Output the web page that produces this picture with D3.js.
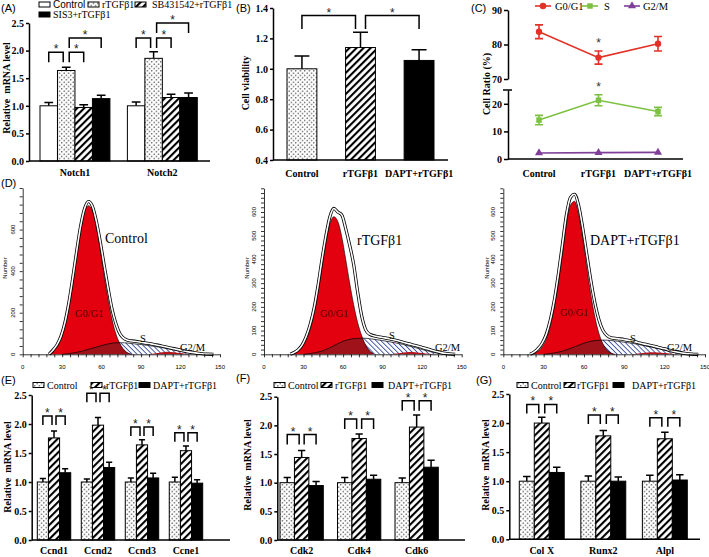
<!DOCTYPE html>
<html><head><meta charset="utf-8">
<script src="https://d3js.org/d3.v7.min.js"></script>
<style>body{margin:0;background:#fff;}svg{display:block;}</style>
</head><body>
<script>
// ===================== DATA =====================
const notchGenes = ["Notch1", "Notch2"];
const notchTreatments = ["Control", "rTGFβ1", "SB431542+rTGFβ1", "SIS3+rTGFβ1"];
const notchMean = [[1.00, 1.64, 0.97, 1.13], [1.00, 1.86, 1.15, 1.15]];
const notchErr = [[0.06, 0.06, 0.05, 0.06], [0.07, 0.12, 0.06, 0.08]];
// [catA, seriesA, catB, seriesB, bracket height]
const notchBrackets = [[0,0,0,1,1.97],[0,1,0,2,1.97],[0,1,0,3,2.23],[1,0,1,1,2.23],[1,1,1,2,2.23],[1,1,1,3,2.50]];
const mrnaTicks = [0, 0.5, 1.0, 1.5, 2.0, 2.5];

const treatments = ["Control", "rTGFβ1", "DAPT+rTGFβ1"];
const viabilityMean = [1.00, 1.14, 1.055];
const viabilityErr = [0.085, 0.10, 0.07];
const viabilityBrackets = [[0,0,1,0,1.35],[1,0,2,0,1.35]];
const viabilityTicks = [0.4, 0.6, 0.8, 1.0, 1.2, 1.4];

const phases = ["G0/G1", "S", "G2/M"];
const g0g1Ratio = [83.7, 76.2, 80.2];
const g0g1Err = [2.0, 1.9, 2.1];
const sRatio = [14.1, 21.3, 17.2];
const sErr = [1.7, 2.0, 1.5];
const g2mRatio = [2.2, 2.3, 2.4];
const g2mErr = [0, 0, 0];
const ratioTicksUpper = [70, 80, 90];
const ratioTicksLower = [0, 10, 20];

// Flow cytometry histograms (channel -> cell number)
const flowTicksX = [0, 30, 60, 90, 120, 150];
const chEnv = [20,23,26,29,32,35,38,41,44,47,50,53,56,59,62,65,68,71,74,77,80,85,90,95,100,105,110,115,120,125,130,135,140,145];
const chG0 = [20,23,26,29,32,35,38,41,44,47,50,53,56,59,62,65,68,71,74,77,80,83];
const chS = [30,35,40,45,50,55,60,65,70,75,80,85,90,95,100,105,110,115,120,125,130,135,140];
const chM = [95,100,105,110,115,120,125,130];

const ctrlEnv = [0,20,45,85,150,245,365,495,615,700,735,712,640,540,425,315,215,145,98,76,68,63,58,53,47,41,34,27,20,13,8,4,1,0];
const ctrlG0 = [0,15,40,79,142,232,348,477,597,684,715,690,610,500,375,260,165,95,50,22,6,0];
const ctrlS = [0,3,8,15,24,33,42,50,55,56,54,50,47,43,38,33,27,20,14,8,4,1,0];
const ctrlM = [0,4,9,12,10,6,2,0];

const tgfEnv = [0,8,20,40,75,125,195,290,400,500,580,615,600,588,530,460,380,265,165,105,85,76,71,66,59,52,44,37,29,21,13,6,2,0];
const tgfG0 = [0,5,15,32,60,105,170,260,365,470,550,580,560,495,400,300,210,135,80,40,15,3];
const tgfS = [0,3,8,16,28,42,55,63,67,68,66,62,58,53,48,42,35,28,20,13,6,2,0];
const tgfM = [0,3,7,10,9,5,2,0];

const daptEnv = [0,10,25,48,85,145,230,340,465,590,662,675,628,535,425,315,220,148,102,80,70,66,62,57,50,43,37,30,23,15,9,4,1,0];
const daptG0 = [0,4,14,32,65,120,200,305,425,550,630,645,590,490,370,255,160,90,45,18,5,0];
const daptS = [0,3,8,15,25,36,47,55,59,60,58,55,51,47,42,36,30,24,17,10,5,1,0];
const daptM = [0,3,7,9,8,5,2,0];

const cyclinGenes = ["Ccnd1", "Ccnd2", "Ccnd3", "Ccne1"];
const cyclinMean = [[1.00,1.76,1.16],[1.00,1.98,1.25],[1.00,1.64,1.07],[1.00,1.54,0.98]];
const cyclinErr = [[0.06,0.12,0.07],[0.05,0.13,0.09],[0.07,0.09,0.08],[0.08,0.08,0.06]];
const cyclinBrackets = [[0,0,0,1,2.14],[0,1,0,2,2.14],[1,0,1,1,2.53],[1,1,1,2,2.53],[2,0,2,1,1.95],[2,1,2,2,1.95],[3,0,3,1,1.85],[3,1,3,2,1.85]];

const cdkGenes = ["Cdk2", "Cdk4", "Cdk6"];
const cdkMean = [[1.00,1.44,0.95],[1.00,1.77,1.06],[1.00,1.97,1.27]];
const cdkErr = [[0.09,0.12,0.07],[0.09,0.08,0.07],[0.08,0.21,0.12]];
const cdkBrackets = [[0,0,0,1,1.84],[0,1,0,2,1.84],[1,0,1,1,2.11],[1,1,1,2,2.11],[2,0,2,1,2.43],[2,1,2,2,2.43]];

const osteoGenes = ["Col X", "Runx2", "Alpl"];
const osteoMean = [[1.00,2.00,1.15],[1.00,1.78,1.00],[1.00,1.73,1.02]];
const osteoErr = [[0.08,0.10,0.09],[0.09,0.09,0.07],[0.10,0.11,0.09]];
const osteoBrackets = [[0,0,0,1,2.32],[0,1,0,2,2.32],[1,0,1,1,2.14],[1,1,1,2,2.14],[2,0,2,1,2.09],[2,1,2,2,2.09]];

// ===================== DRAWING =====================
const SERIF = "Liberation Serif, Times New Roman, serif";
const SANS = "Liberation Sans, Arial, sans-serif";
const NARROW = "Liberation Sans Narrow, Arial Narrow, Liberation Sans, sans-serif";
const RED = "#e3000f", GREEN = "#7dc142", PURPLE = "#7f3f98", CRED = "#e33127";

const svg = d3.select("body").append("svg").attr("width", 709).attr("height", 557);
svg.append("rect").attr("width", 709).attr("height", 557).attr("fill", "#fff");
const defs = svg.append("defs");

const pd = defs.append("pattern").attr("id","dots").attr("patternUnits","userSpaceOnUse").attr("width",4.5).attr("height",4.5);
pd.append("rect").attr("width",4.5).attr("height",4.5).attr("fill","#fff");
pd.append("circle").attr("cx",1.1).attr("cy",1.1).attr("r",0.6).attr("fill","#000");
pd.append("circle").attr("cx",3.35).attr("cy",3.35).attr("r",0.6).attr("fill","#000");

const ph = defs.append("pattern").attr("id","hatch").attr("patternUnits","userSpaceOnUse").attr("width",5).attr("height",5).attr("patternTransform","rotate(45)");
ph.append("rect").attr("width",5).attr("height",5).attr("fill","#fff");
ph.append("rect").attr("width",2.1).attr("height",5).attr("fill","#000");

const fh = defs.append("pattern").attr("id","fhatch").attr("patternUnits","userSpaceOnUse").attr("width",3.5).attr("height",3.5).attr("patternTransform","rotate(-45)");
fh.append("rect").attr("width",3.5).attr("height",3.5).attr("fill","#fff");
fh.append("rect").attr("width",0.9).attr("height",3.5).attr("fill","#3b4fa0");

function panelLabel(t, x, y) {
  svg.append("text").attr("x", x).attr("y", y).attr("font-family", SANS).attr("font-size", 11).text(t);
}
function yLabel(t, x, y) {
  svg.append("text").attr("transform", `translate(${x},${y}) rotate(-90)`).attr("text-anchor","middle")
    .attr("dy","0.35em").attr("font-family", SERIF).attr("font-weight","bold").attr("font-size",10)
    .style("white-space","pre").text(t);
}
function legendItem(bx, y, fill, tx, label, font) {
  svg.append("rect").attr("x", bx).attr("y", y - 2.5).attr("width", 11).attr("height", 5)
    .attr("fill", fill).attr("stroke", "#000").attr("stroke-width", 1);
  svg.append("text").attr("x", tx).attr("y", y).attr("dy", "0.35em").attr("font-family", font)
    .attr("font-size", 10).text(label);
}
function styleAxis(g, sw) {
  g.select(".domain").attr("stroke-width", sw);
  g.selectAll(".tick line").attr("stroke-width", sw);
  g.selectAll(".tick text").attr("font-family", SERIF).attr("font-weight", "bold").attr("font-size", 10).attr("fill","#000");
}

function barPanel(c) {
  const x = d3.scaleBand().domain(c.cats).range(c.band).paddingInner(c.pi).paddingOuter(0);
  const ns = c.means[0].length;
  const xs = d3.scaleBand().domain(d3.range(ns)).range([0, x.bandwidth()]);
  const y = d3.scaleLinear().domain(c.yDom).range(c.yRange);
  const bw = xs.bandwidth();
  const g = svg.append("g");
  const rows = [];
  c.cats.forEach((cat, ci) => c.means[ci].forEach((v, si) => rows.push({cat, ci, si, v, e: c.errs[ci][si]})));
  const ctr = (ci, si) => x(c.cats[ci]) + xs(si) + bw / 2;
  const cw = bw * c.cap;
  g.selectAll(".eb").data(rows).join("path")
    .attr("d", d => `M${ctr(d.ci,d.si)},${y(d.v)}V${y(d.v + d.e)}M${ctr(d.ci,d.si) - cw/2},${y(d.v + d.e)}H${ctr(d.ci,d.si) + cw/2}`)
    .attr("stroke", "#000").attr("stroke-width", 1.5).attr("fill", "none");
  g.selectAll(".bar").data(rows).join("rect")
    .attr("x", d => x(d.cat) + xs(d.si)).attr("y", d => y(d.v))
    .attr("width", bw).attr("height", d => y(c.yDom[0]) - y(d.v))
    .attr("fill", d => c.fill(d)).attr("stroke", "#000").attr("stroke-width", 1);
  // axes
  const ya = g.append("g").attr("transform", `translate(${c.axisX[0]},0)`)
    .call(d3.axisLeft(y).tickValues(c.ticks).tickFormat(d3.format(".1f")).tickSize(3).tickSizeOuter(0).tickPadding(2));
  styleAxis(ya, 1.5);
  g.append("line").attr("x1", c.axisX[0]).attr("x2", c.axisX[1]).attr("y1", y(c.yDom[0])).attr("y2", y(c.yDom[0]))
    .attr("stroke", "#000").attr("stroke-width", 1.5);
  g.selectAll(".xl").data(c.cats).join("text")
    .attr("x", d => x(d) + x.bandwidth() / 2).attr("y", c.xlabY).attr("text-anchor", "middle")
    .attr("font-family", SERIF).attr("font-weight", "bold").attr("font-size", 10).text(d => d);
  // significance brackets
  c.brackets.forEach(b => {
    const [ca, sa, cb, sb, v] = b;
    const x1 = ctr(ca, sa) + (c.isRef(ca, sa) ? c.off : 0);
    const x2 = ctr(cb, sb) - (c.isRef(cb, sb) ? c.off : 0);
    const yt = y(v);
    g.append("path").attr("d", `M${x1},${yt + c.drop}V${yt}H${x2}V${yt + c.drop}`)
      .attr("fill", "none").attr("stroke", "#000").attr("stroke-width", 1.5);
    g.append("text").attr("x", (x1 + x2) / 2).attr("y", yt + 1).attr("text-anchor", "middle")
      .attr("font-family", SANS).attr("font-size", 12).attr("fill", "#222").text("*");
  });
}

// ---------- Panel A ----------
panelLabel("(A)", 1, 12);
const notchFills = ["#fff", "url(#dots)", "url(#hatch)", "#000"];
barPanel({cats: notchGenes, means: notchMean, errs: notchErr, band: [40, 197.3], pi: 0.2,
  yDom: [0, 2.5], yRange: [161, 23], ticks: mrnaTicks, axisX: [29, 210], xlabY: 176,
  fill: d => notchFills[d.si], brackets: notchBrackets, isRef: (ci, si) => si === 1, off: 3, drop: 10, cap: 0.5});
yLabel("Relative  mRNA level", 6, 88);
legendItem(39, 4.5, notchFills[0], 53, notchTreatments[0], NARROW);
legendItem(88, 4.5, notchFills[1], 102, notchTreatments[1], SERIF);
legendItem(135, 4.5, notchFills[2], 152, notchTreatments[2], SERIF);
legendItem(39, 14.5, notchFills[3], 53, notchTreatments[3], SERIF);

// ---------- Panel B ----------
panelLabel("(B)", 236, 12);
const treatFills = ["url(#dots)", "url(#hatch)", "#000"];
barPanel({cats: treatments, means: viabilityMean.map(v => [v]), errs: viabilityErr.map(v => [v]),
  band: [287, 434], pi: 0.49, yDom: [0.4, 1.4], yRange: [160, 8], ticks: viabilityTicks,
  axisX: [273, 448], xlabY: 177, fill: d => treatFills[d.ci], brackets: viabilityBrackets,
  isRef: (ci, si) => ci === 1, off: 5, drop: 13.5, cap: 0.5});
yLabel("Cell viability", 245, 83);

// ---------- Panel C ----------
panelLabel("(C)", 471, 12);
{
  const g = svg.append("g");
  const cx = d3.scalePoint().domain(treatments).range([539, 658]);
  const yU = d3.scaleLinear().domain([70, 90]).range([79, 10]);
  const yL = d3.scaleLinear().domain([0, 25]).range([159, 90]);
  const au = g.append("g").attr("transform", "translate(508,0)")
    .call(d3.axisLeft(yU).tickValues(ratioTicksUpper).tickSize(4).tickSizeOuter(0).tickPadding(2));
  styleAxis(au, 1.5);
  const al = g.append("g").attr("transform", "translate(508,0)")
    .call(d3.axisLeft(yL).tickValues(ratioTicksLower).tickSize(4).tickSizeOuter(0).tickPadding(2));
  styleAxis(al, 1.5);
  g.append("line").attr("x1", 503).attr("x2", 512).attr("y1", yL(25)).attr("y2", yL(25)).attr("stroke", "#000").attr("stroke-width", 1.5);
  g.append("line").attr("x1", 508).attr("x2", 683).attr("y1", yL(0)).attr("y2", yL(0)).attr("stroke", "#000").attr("stroke-width", 1.5);
  g.selectAll(".xl").data(treatments).join("text").attr("x", d => cx(d)).attr("y", 177)
    .attr("text-anchor", "middle").attr("font-family", SERIF).attr("font-weight", "bold").attr("font-size", 10).text(d => d);
  const series = [
    {vals: g0g1Ratio, errs: g0g1Err, color: CRED, y: yU, sym: d3.symbolCircle, size: 32},
    {vals: sRatio, errs: sErr, color: GREEN, y: yL, sym: d3.symbolSquare, size: 30},
    {vals: g2mRatio, errs: g2mErr, color: PURPLE, y: yL, sym: d3.symbolTriangle, size: 28}
  ];
  series.forEach(s => {
    const line = d3.line().x((d, i) => cx(treatments[i])).y(d => s.y(d));
    g.append("path").attr("d", line(s.vals)).attr("fill", "none").attr("stroke", s.color).attr("stroke-width", 1.6);
    s.vals.forEach((v, i) => {
      const e = s.errs[i];
      if (e > 0) {
        const px = cx(treatments[i]);
        g.append("path").attr("d", `M${px},${s.y(v - e)}V${s.y(v + e)}M${px - 4},${s.y(v - e)}H${px + 4}M${px - 4},${s.y(v + e)}H${px + 4}`)
          .attr("stroke", s.color).attr("stroke-width", 1.6).attr("fill", "none");
      }
      g.append("path").attr("d", d3.symbol().type(s.sym).size(s.size)())
        .attr("transform", `translate(${cx(treatments[i])},${s.y(v)})`).attr("fill", s.color);
    });
  });
  // significance marks
  g.append("text").attr("x", cx(treatments[1])).attr("y", yU(g0g1Ratio[1] + g0g1Err[1]) - 4)
    .attr("text-anchor", "middle").attr("font-family", SANS).attr("font-size", 12).attr("fill", "#333").text("*");
  g.append("text").attr("x", cx(treatments[1])).attr("y", yL(sRatio[1] + sErr[1]) - 4)
    .attr("text-anchor", "middle").attr("font-family", SANS).attr("font-size", 12).attr("fill", "#333").text("*");
  // legend
  const leg = [[543, 555], [590, 604], [632, 643]];
  series.forEach((s, i) => {
    const [mx, tx] = leg[i];
    g.append("line").attr("x1", mx - 8).attr("x2", mx + 8).attr("y1", 6).attr("y2", 6).attr("stroke", s.color).attr("stroke-width", 1.6);
    g.append("path").attr("d", d3.symbol().type(s.sym).size(s.size)()).attr("transform", `translate(${mx},6)`).attr("fill", s.color);
    g.append("text").attr("x", tx).attr("y", 6).attr("dy", "0.35em").attr("font-family", SERIF).attr("font-size", 10.5).text(phases[i]);
  });
  yLabel("Cell Ratio (%)", 486, 84);
}

// ---------- Panel D ----------
panelLabel("(D)", 1, 187);
function flowPanel(c) {
  const x = d3.scaleLinear().domain([0, 150]).range([c.x0, c.x1]);
  const y = d3.scaleLinear().domain([0, c.ymax]).range([c.base, c.top]);
  const g = svg.append("g");
  const area = ch => d3.area().x((d, i) => x(ch[i])).y0(y(0)).y1(d => y(d)).curve(d3.curveMonotoneX);
  const line = ch => d3.line().x((d, i) => x(ch[i])).y(d => y(d)).curve(d3.curveMonotoneX);
  g.append("path").attr("d", area(chS)(c.s)).attr("fill", "url(#fhatch)");
  g.append("path").attr("d", area(chG0)(c.g0)).attr("fill", RED);
  g.append("clipPath").attr("id", c.id).append("path").attr("d", area(chG0)(c.g0));
  g.append("path").attr("d", area(chS)(c.s)).attr("fill", "#a0121a").attr("clip-path", `url(#${c.id})`);
  g.append("path").attr("d", area(chM)(c.m)).attr("fill", "#b5141d");
  g.append("path").attr("d", line(chS)(c.s)).attr("fill", "none").attr("stroke", "#000").attr("stroke-width", 0.7);
  g.append("path").attr("d", line(chG0)(c.g0)).attr("fill", "none").attr("stroke", "#000").attr("stroke-width", 0.6);
  const ep = line(chEnv)(c.env);
  g.append("path").attr("d", ep).attr("fill", "none").attr("stroke", "#000").attr("stroke-width", 3.2);
  g.append("path").attr("d", ep).attr("fill", "none").attr("stroke", "#fff").attr("stroke-width", 1.6);
  // axes
  const xa = g.append("g").attr("transform", `translate(0,${c.base})`)
    .call(d3.axisBottom(x).tickValues(d3.range(0, 151, 6)).tickSize(3).tickSizeOuter(0).tickFormat(""));
  xa.selectAll("path,line").attr("stroke-width", 0.8);
  const ya = g.append("g").attr("transform", `translate(${c.x0},0)`)
    .call(d3.axisLeft(y).tickValues(d3.range(0, c.ymax + 1, c.yMinor)).tickSize(3).tickSizeOuter(0).tickFormat(""));
  ya.selectAll("path,line").attr("stroke-width", 0.8);
  g.selectAll(".xt").data(flowTicksX).join("text").attr("x", d => x(d)).attr("y", c.base + 12.5)
    .attr("text-anchor", "middle").attr("dy", "0.35em").attr("font-family", SANS).attr("font-size", 6).text(d => d);
  g.selectAll(".yt").data(d3.range(0, c.ymax, c.yStep)).join("text")
    .attr("transform", d => `translate(${c.x0 - 10},${y(d)}) rotate(-90)`)
    .attr("text-anchor", "middle").attr("dy", "0.35em").attr("font-family", SANS).attr("font-size", 6).text(d => d);
  g.append("text").attr("transform", `translate(${c.numX},268) rotate(-90)`).attr("text-anchor", "middle")
    .attr("dy", "0.35em").attr("font-family", SANS).attr("font-size", 6).text("Number");
  // labels
  g.append("text").attr("x", c.title[1]).attr("y", c.title[2]).attr("dy", "0.35em")
    .attr("font-family", SERIF).attr("font-size", 14).text(c.title[0]);
  g.append("text").attr("x", c.g0Lab[0]).attr("y", c.g0Lab[1]).attr("dy", "0.35em")
    .attr("font-family", SERIF).attr("font-size", 10.5).attr("fill", "#5a0000").text("G0/G1");
  g.append("text").attr("x", c.sLab[0]).attr("y", c.sLab[1]).attr("dy", "0.35em").attr("text-anchor", "middle")
    .attr("font-family", SERIF).attr("font-size", 10.5).text("S");
  g.append("text").attr("x", c.mLab[0]).attr("y", c.mLab[1]).attr("dy", "0.35em")
    .attr("font-family", SERIF).attr("font-size", 10.5).text("G2/M");
}
flowPanel({id: "cpCtrl", x0: 22.7, x1: 220, base: 354.3, top: 188, ymax: 800, yStep: 200, yMinor: 40,
  env: ctrlEnv, g0: ctrlG0, s: ctrlS, m: ctrlM, numX: 5,
  title: [treatments[0], 105, 238], g0Lab: [75, 313], sLab: [143, 338], mLab: [180, 347]});
flowPanel({id: "cpTgf", x0: 264, x1: 461.7, base: 354.3, top: 188.3, ymax: 700, yStep: 100, yMinor: 20,
  env: tgfEnv, g0: tgfG0, s: tgfS, m: tgfM, numX: 247,
  title: [treatments[1], 357, 240], g0Lab: [320, 313], sLab: [392, 335], mLab: [435, 347]});
flowPanel({id: "cpDapt", x0: 503.3, x1: 705, base: 354.3, top: 188.3, ymax: 700, yStep: 100, yMinor: 20,
  env: daptEnv, g0: daptG0, s: daptS, m: daptM, numX: 487,
  title: [treatments[2], 590, 240], g0Lab: [560, 312], sLab: [633, 338], mLab: [667, 347]});

// ---------- Panels E, F, G ----------
const refMid = (ci, si) => si === 1;
panelLabel("(E)", 1, 384);
barPanel({cats: cyclinGenes, means: cyclinMean, errs: cyclinErr, band: [37.3, 202.7], pi: 0.24,
  yDom: [0, 2.5], yRange: [540, 395], ticks: mrnaTicks, axisX: [31.7, 230], xlabY: 554,
  fill: d => treatFills[d.si], brackets: cyclinBrackets, isRef: refMid, off: 2, drop: 9, cap: 0.55});
yLabel("Relative  mRNA level", 7, 467);
legendItem(33, 385, treatFills[0], 47, treatments[0], SERIF);
legendItem(91, 385, treatFills[1], 106, treatments[1], SERIF);
legendItem(139, 385, treatFills[2], 153, treatments[2], SERIF);

panelLabel("(F)", 236, 382);
barPanel({cats: cdkGenes, means: cdkMean, errs: cdkErr, band: [280, 438.3], pi: 0.247,
  yDom: [0, 2.5], yRange: [540, 396.7], ticks: mrnaTicks, axisX: [277.3, 465], xlabY: 554,
  fill: d => treatFills[d.si], brackets: cdkBrackets, isRef: refMid, off: 2.5, drop: 10, cap: 0.5});
yLabel("Relative  mRNA level", 247.5, 465);
legendItem(274, 385, treatFills[0], 288, treatments[0], SERIF);
legendItem(321, 385, treatFills[1], 335, treatments[1], SERIF);
legendItem(372, 385, treatFills[2], 388, treatments[2], SERIF);

panelLabel("(G)", 476, 384);
barPanel({cats: osteoGenes, means: osteoMean, errs: osteoErr, band: [519.3, 687.3], pi: 0.27,
  yDom: [0, 2.5], yRange: [539.3, 394], ticks: mrnaTicks, axisX: [509.3, 700], xlabY: 554,
  fill: d => treatFills[d.si], brackets: osteoBrackets, isRef: refMid, off: 3, drop: 9, cap: 0.5});
yLabel("Relative  mRNA level", 485.5, 465);
legendItem(517, 385, treatFills[0], 531, treatments[0], SERIF);
legendItem(564, 385, treatFills[1], 577, treatments[1], SERIF);
legendItem(613, 385, treatFills[2], 632, treatments[2], SERIF);
</script>
</body></html>
